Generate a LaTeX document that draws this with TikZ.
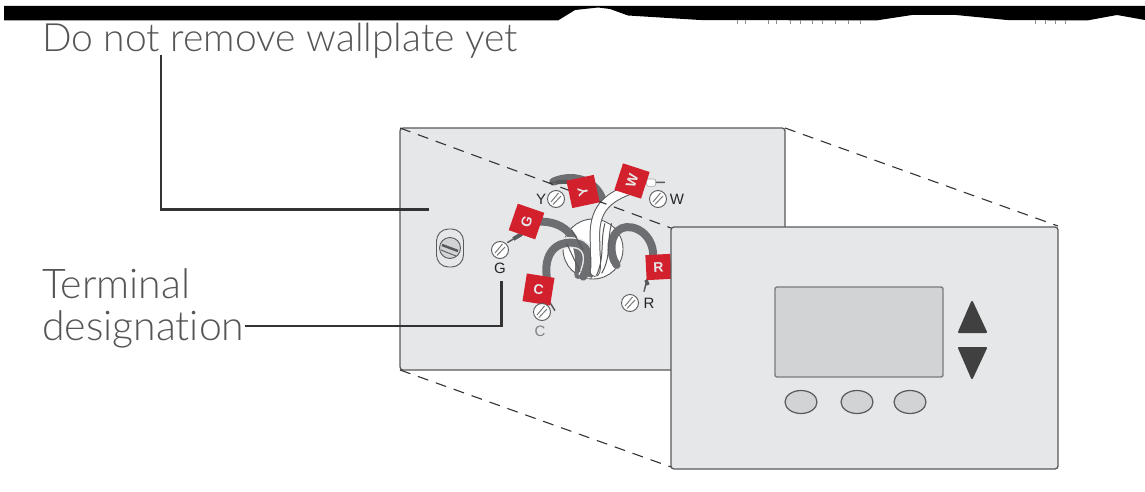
\documentclass[tikz,border=0pt]{standalone}
\usepackage{fontspec}
\setmainfont{Lato Light}
\newfontfamily\labelfont{Liberation Sans}
\usetikzlibrary{calc,shapes.geometric}
\definecolor{plate}{HTML}{E6E7E8}
\definecolor{scr}{HTML}{D1D3D4}
\definecolor{edge}{HTML}{58595B}
\definecolor{wire}{HTML}{6D6E71}
\definecolor{tagred}{HTML}{D2202C}
\definecolor{capt}{HTML}{555555}
\tikzset{
  panel/.style={draw=edge,fill=plate,line width=1.3pt,rounded corners=3pt},
  leader/.style={draw=black!80,line width=2.1pt},
  dashline/.style={draw=black!80,line width=1.1pt,dash pattern=on 11pt off 8pt},
  caption/.style={text=capt,font=\fontsize{39}{41}\selectfont,anchor=base west,inner sep=0pt},
  bigcaption/.style={caption,font=\fontsize{41}{43}\selectfont},
  graywire/.style={draw=wire,line width=8pt,line cap=round},
  whitewire/.style={draw=edge,line width=10.5pt,line cap=round,postaction={draw=white,line width=8.5pt}},
  stub/.style={draw=edge,line width=1.5pt},
  tagbox/.style={fill=tagred,minimum size=28pt,inner sep=0pt,text=plate,font=\labelfont\bfseries\fontsize{14}{14}\selectfont},
  screwhead/.style={circle,draw=edge,fill=white,line width=.9pt,minimum size=17pt,inner sep=0pt},
  termlabel/.style={text=black!85,font=\labelfont\fontsize{15}{15}\selectfont,inner sep=0pt},
  softkey/.style={ellipse,draw=edge,fill=scr,line width=1.2pt,minimum width=32pt,minimum height=23pt,inner sep=0pt},
  arrowkey/.style={fill=black!75,draw=black!75,line width=2pt,line join=round},
  bandtick/.style={draw=black!45,line width=.8pt}
}
\newcommand{\slotmark}[1]{\draw[edge!80,line width=1pt] ($(#1)+(-5,3)$)--($(#1)+(2.5,-6)$) ($(#1)+(-3,5.5)$)--($(#1)+(5,-3)$);}
\begin{document}
\begin{tikzpicture}[x=1pt,y=-1pt]
\useasboundingbox (0,0) rectangle (1145,492);
% top band
\fill[black] (4,6) -- (1145,6) -- (1145,20) -- (1117,15) -- (1087,20.5) -- (1007,20) -- (956,15) -- (912,15) -- (876,20.5) -- (700,20) -- (628,15.5) -- (610,9) -- (598,7.5) -- (575,10) -- (558,20.5) -- (4,20.5) -- cycle;
\foreach \tx in {737,745,768,776,790,800,812,822,835,848,860,1035,1045,1055,1065}
  \draw[bandtick] (\tx,20.5) -- (\tx,24);
% captions
\node[caption] (cap1) at (42,52) {Do not remove wallplate yet};
\node[bigcaption] (cap2) at (42,298) {Terminal};
\node[bigcaption] (cap3) at (42,340) {designat\kern0pt ion};
% wallplate
\node[panel,minimum width=385pt,minimum height=242pt,inner sep=0pt] (wallplate) at (592.5,249) {};
% screw
\node[draw=edge,fill=plate,line width=.9pt,rounded corners=12pt,minimum width=27pt,minimum height=38pt,inner sep=0pt] (slot) at (450,248) {};
\node[circle,draw=edge,fill=scr,line width=.9pt,minimum size=21pt,inner sep=0pt] (screw) at (450,248) {};
\draw[edge,line width=2.5pt] ($(screw)+(-8,-3)$)--($(screw)+(8,3)$);
\draw[edge,line width=.9pt] ($(screw)+(-9,2)$)--($(screw)+(6,8)$);
% central hole
\node[circle,draw=edge,fill=white,line width=.9pt,minimum size=60pt,inner sep=0pt] (hole) at (593,249) {};
% wires
\begin{scope}[shift={(420,140)},x=.3333pt,y=-.3333pt]
\draw[graywire,line cap=butt] (490,410) -- (530,300);
\draw[graywire] (350,245) .. controls (440,240) and (490,300) .. (475,405);
\draw[graywire,draw=plate,line width=11pt,line cap=butt] (380,400) .. controls (370,320) and (430,300) .. (470,310) .. controls (515,320) and (510,370) .. (490,410);
\draw[graywire] (380,410) .. controls (370,320) and (430,300) .. (470,310) .. controls (515,320) and (510,370) .. (490,410);
\draw[graywire] (400,125) .. controls (470,95) and (540,130) .. (550,190);
\draw[graywire] (700,350) .. controls (700,280) and (640,250) .. (605,265) .. controls (570,280) and (565,340) .. (590,375);
\draw[graywire,line cap=butt] (530,340) -- (505,410);
\draw[whitewire] (625,150) .. controls (560,175) and (520,210) .. (525,300) .. controls (525,350) and (530,370) .. (525,395);
\draw[edge,line width=1pt] (575,250) .. controls (560,300) and (575,350) .. (545,400);
\draw[edge,line width=1pt] (555,250) .. controls (540,300) and (555,350) .. (530,405);
\draw[edge,line width=1pt] (440,310) -- (480,395) (455,270) -- (490,330);
% stubs
\coordinate (yend) at (388,128); \coordinate (ytag) at (425,125);
\coordinate (wend) at (735,127); \coordinate (wtag) at (680,128);
\coordinate (gend) at (262,308); \coordinate (gtag) at (300,285);
\coordinate (rend) at (672,455); \coordinate (rtag) at (682,415);
\coordinate (cend) at (405,512); \coordinate (ctag) at (385,480);
\draw[stub] (yend)--(ytag);
\draw[stub] (wend)--(wtag);
\draw[stub] (gend)--(gtag);
\draw[stub] (rend)--(rtag);
\draw[stub] (cend)--(ctag);
\draw[fill=white,draw=plate!70!black,line width=.6pt,rounded corners=2pt] (680,117) rectangle (707,139);
\draw[draw=edge,line width=4pt] (408,127)--(445,125);
\draw[draw=edge,line width=4pt] (280,297)--(305,282);
\draw[draw=edge,line width=3.5pt] (678,420)--(684,435);
\end{scope}
% dashed projection lines
\coordinate (plateTL) at (400,128);
\coordinate (plateTR) at (785,128);
\coordinate (plateBL) at (400,370);
\coordinate (frontTL) at (671,228);
\coordinate (frontTR) at (1058,226);
\coordinate (frontBL) at (671,467);
\draw[dashline] (plateTL) -- (frontTL);
\draw[dashline] (plateTR) -- (frontTR);
\draw[dashline] (plateBL) -- (frontBL);
% tags
\node[tagbox,rotate=-19] (tagG) at (526.5,221.5) {\rotatebox{90}{G}};
\node[tagbox,rotate=12] (tagY) at (583,191.5) {\rotatebox{90}{Y}};
\node[tagbox,rotate=-18] (tagW) at (632,181) {\rotatebox{90}{W}};
\node[tagbox,rotate=-9] (tagC) at (538.5,289.5) {C};
\node[tagbox,rotate=3,minimum size=25pt] (tagR) at (658.5,267) {R};
% terminals
\node[screwhead] (sG) at (500,250) {}; \slotmark{sG}
\node[screwhead] (sY) at (556,199) {}; \slotmark{sY}
\node[screwhead] (sW) at (658,199) {}; \slotmark{sW}
\node[screwhead] (sR) at (630,303) {}; \slotmark{sR}
\node[screwhead] (sC) at (542,312) {}; \slotmark{sC}
\node[termlabel] (lG) at (500,268.5) {G};
\node[termlabel] (lY) at (541,199) {Y};
\node[termlabel] (lW) at (677,199) {W};
\node[termlabel] (lR) at (649,303) {R};
\node[termlabel,text=black!50] (lC) at (540,331) {C};
% leaders
\coordinate (lead1a) at (161,55);
\coordinate (lead1b) at (429,209.5);
\coordinate (lead2b) at (501.5,281);
\draw[leader] (lead1a) |- (lead1b);
\draw[leader] (cap3.east |- 0,326) -| (lead2b);
% thermostat
\node[panel,minimum width=387pt,minimum height=242pt,inner sep=0pt] (front) at (864.5,348) {};
\node[draw=edge!80,fill=scr,line width=1.4pt,rounded corners=2pt,minimum width=168pt,minimum height=90pt,inner sep=0pt] (screen) at (859,332) {};
\fill[arrowkey] (972,302) -- (986,332) -- (959,332) -- cycle;
\fill[arrowkey] (959,348) -- (986,348) -- (972,378) -- cycle;
\node[softkey] (k1) at (801,402) {};
\node[softkey] (k2) at (857,402) {};
\node[softkey] (k3) at (910,402) {};
\end{tikzpicture}
\end{document}
